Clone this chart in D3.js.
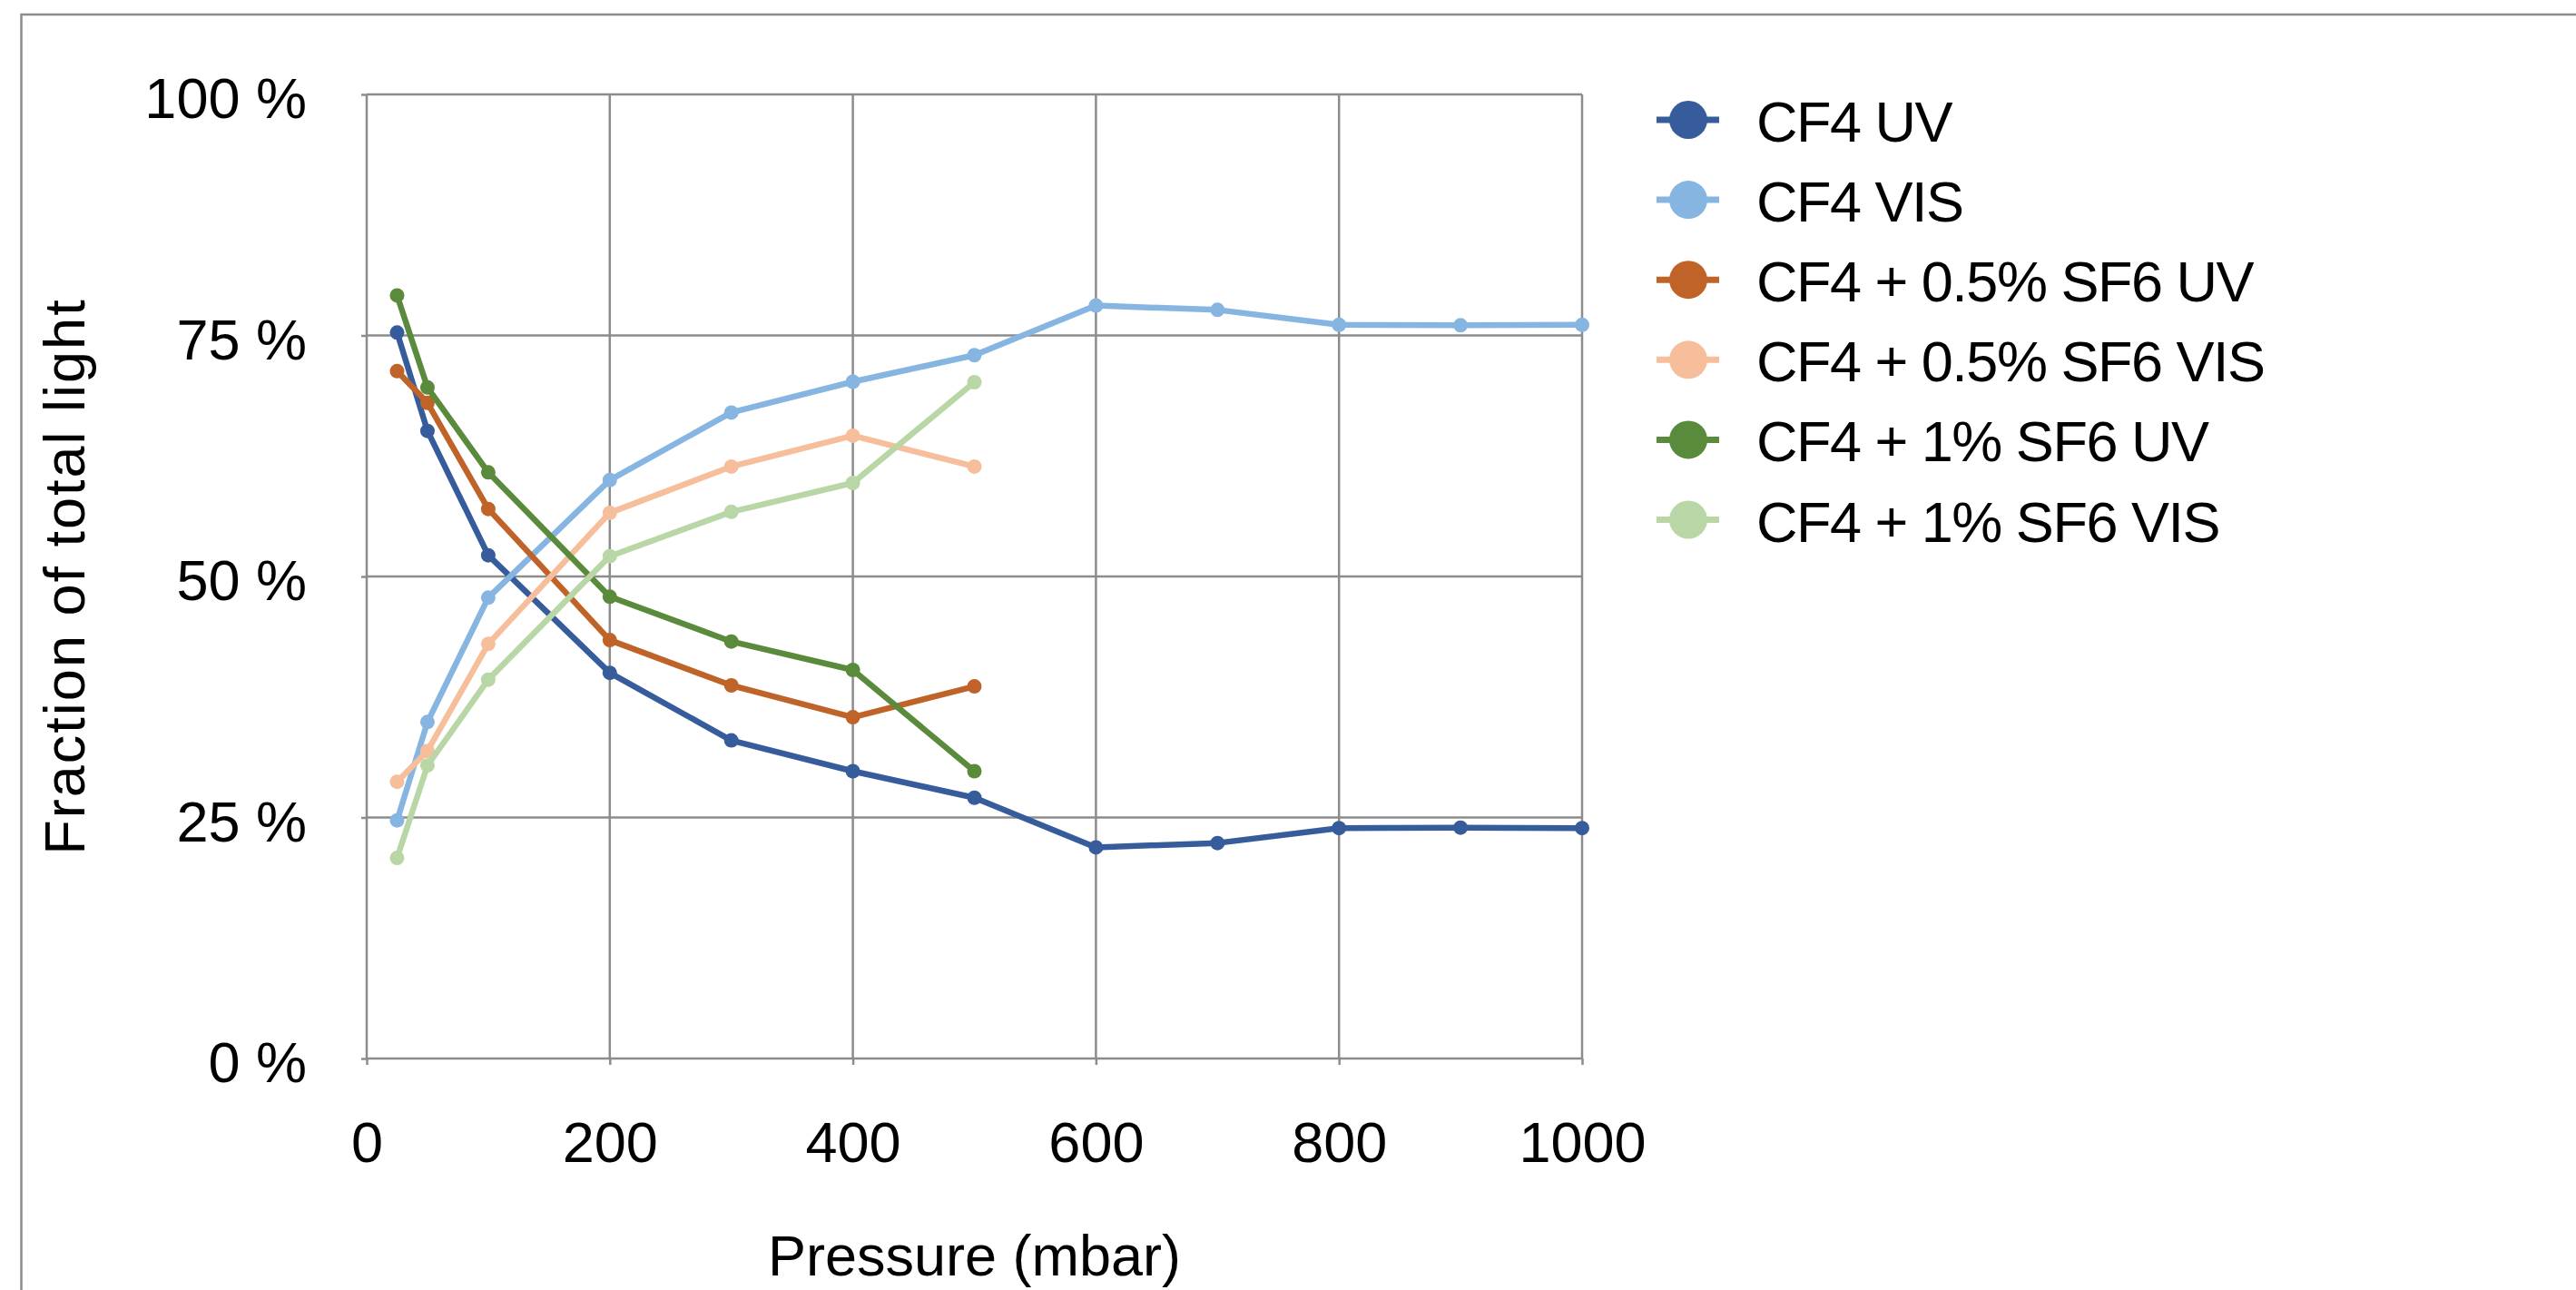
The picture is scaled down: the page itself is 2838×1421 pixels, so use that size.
<!DOCTYPE html>
<html>
<head>
<meta charset="utf-8">
<script src="https://cdn.jsdelivr.net/npm/d3@7"></script>
<style>
  body { margin: 0; background: #fff; }
  text { font-family: "Liberation Sans", Arial, sans-serif; fill: #000; }
</style>
</head>
<body>
<script>
// data
var pressureCF4 = [25, 50, 100, 200, 300, 400, 500, 600, 700, 800, 900, 1000];
var pressureMix = [25, 50, 100, 200, 300, 400, 500];

var cf4UV   = [75.3, 65.1, 52.2, 40.0, 33.0, 29.8, 27.05, 21.9, 22.35, 23.9, 23.95, 23.9];
var cf4VIS  = [24.7, 34.9, 47.8, 60.0, 67.0, 70.2, 72.95, 78.1, 77.65, 76.1, 76.05, 76.1];
var sf05UV  = [71.3, 68.0, 57.0, 43.4, 38.7, 35.4, 38.6];
var sf05VIS = [28.7, 31.9, 43.0, 56.6, 61.4, 64.6, 61.4];
var sf1UV   = [79.15, 69.6, 60.8, 47.9, 43.25, 40.3, 29.8];
var sf1VIS  = [20.8, 30.4, 39.3, 52.1, 56.7, 59.7, 70.15];

var seriesNames = ["CF4 UV", "CF4 VIS", "CF4 + 0.5% SF6 UV", "CF4 + 0.5% SF6 VIS", "CF4 + 1% SF6 UV", "CF4 + 1% SF6 VIS"];
var seriesColors = ["#365c9c", "#86b5e1", "#bf6328", "#f6be9a", "#5a8a3b", "#b9d7a6"];

var xTicks = [0, 200, 400, 600, 800, 1000];
var yTicks = [0, 25, 50, 75, 100];

var series = [
  {x: pressureCF4, y: cf4UV},
  {x: pressureCF4, y: cf4VIS},
  {x: pressureMix, y: sf05UV},
  {x: pressureMix, y: sf05VIS},
  {x: pressureMix, y: sf1UV},
  {x: pressureMix, y: sf1VIS}
].map((s, i) => ({
  name: seriesNames[i],
  color: seriesColors[i],
  values: s.x.map((p, j) => ({p: p, v: s.y[j]}))
}));

// graph
var W = 2838, H = 1421,
    margin = {top: 104, left: 404, right: W - 1743, bottom: H - 1166},
    width = W - margin.left - margin.right,
    height = H - margin.top - margin.bottom,
    fs = 63,
    grid = "#8c8c8c";

var svg = d3.select("body").append("svg")
    .attr("width", W)
    .attr("height", H);

svg.append("rect")
    .attr("width", W).attr("height", H)
    .attr("fill", "#fff");

// outer chart border (runs off the right and bottom of the picture)
svg.append("rect")
    .attr("x", 23.5).attr("y", 16)
    .attr("width", W).attr("height", H)
    .attr("fill", "none")
    .attr("stroke", grid)
    .attr("stroke-width", 2.5);

var g = svg.append("g")
    .attr("transform", "translate(" + margin.left + "," + margin.top + ")");

var x = d3.scaleLinear().domain([0, 1000]).range([0, width]);
var y = d3.scaleLinear().domain([0, 100]).range([height, 0]);

// gridlines
g.append("g").selectAll("line")
  .data(yTicks)
  .enter().append("line")
    .attr("x1", 0).attr("x2", width)
    .attr("y1", d => y(d)).attr("y2", d => y(d))
    .attr("stroke", grid).attr("stroke-width", 2.5);

g.append("g").selectAll("line")
  .data(xTicks)
  .enter().append("line")
    .attr("x1", d => x(d)).attr("x2", d => x(d))
    .attr("y1", 0).attr("y2", height)
    .attr("stroke", grid).attr("stroke-width", 2.5);

// axes
var yAxis = g.append("g")
    .call(d3.axisLeft(y).tickValues(yTicks).tickSize(6).tickPadding(60)
      .tickFormat(d => d + " %"));

var xAxis = g.append("g")
    .attr("transform", "translate(0," + height + ")")
    .call(d3.axisBottom(x).tickValues(xTicks).tickSize(7).tickPadding(62)
      .tickFormat(d3.format("d")));

[yAxis, xAxis].forEach(a => {
  a.select(".domain").remove();
  a.selectAll(".tick line").attr("stroke", grid).attr("stroke-width", 2.5);
  a.selectAll("text").attr("font-size", fs).attr("font-family", null).attr("fill", "#000");
});
yAxis.selectAll("text").attr("dy", "0.41em");

// axis titles
svg.append("text")
    .attr("x", margin.left + width / 2)
    .attr("y", 1405)
    .attr("text-anchor", "middle")
    .attr("font-size", fs)
    .text("Pressure (mbar)");

svg.append("text")
    .attr("transform", "translate(93," + (margin.top + height / 2) + ") rotate(-90)")
    .attr("text-anchor", "middle")
    .attr("font-size", fs)
    .attr("letter-spacing", 2)
    .text("Fraction of total light");

// lines
var line = d3.line()
    .x(d => x(d.p))
    .y(d => y(d.v));

var sg = g.selectAll(".series")
  .data(series)
  .enter().append("g")
    .attr("class", "series");

sg.append("path")
    .attr("d", d => line(d.values))
    .attr("fill", "none")
    .attr("stroke", d => d.color)
    .attr("stroke-width", 6.5)
    .attr("stroke-linejoin", "round");

sg.selectAll("circle")
  .data(d => d.values.map(v => ({p: v.p, v: v.v, color: d.color})))
  .enter().append("circle")
    .attr("cx", d => x(d.p))
    .attr("cy", d => y(d.v))
    .attr("r", 8)
    .attr("fill", d => d.color);

// legend
var legend = svg.append("g")
    .attr("transform", "translate(1825,132)");

var li = legend.selectAll("g")
  .data(series)
  .enter().append("g")
    .attr("transform", (d, i) => "translate(0," + (i * 88.1) + ")");

li.append("line")
    .attr("x1", 0).attr("x2", 69)
    .attr("stroke", d => d.color)
    .attr("stroke-width", 7);

li.append("circle")
    .attr("cx", 35).attr("r", 21)
    .attr("fill", d => d.color);

li.append("text")
    .attr("x", 110)
    .attr("y", 24)
    .attr("font-size", fs)
    .attr("letter-spacing", -1.5)
    .text(d => d.name);
</script>
</body>
</html>
